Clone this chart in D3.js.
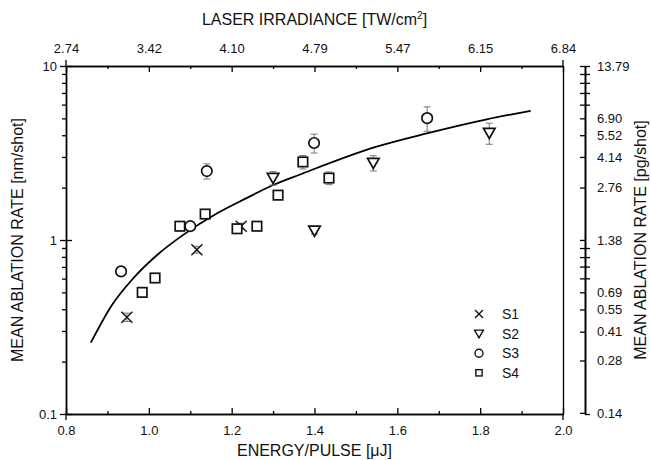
<!DOCTYPE html>
<html>
<head>
<meta charset="utf-8">
<script src="https://cdn.jsdelivr.net/npm/d3@7"></script>
<style>
  body { margin: 0; background: #fff; }
  svg { font-family: "Liberation Sans", Arial, sans-serif; }
  .axis path, .axis line { stroke: #000; stroke-width: 1.3; }
  .axis text { font-size: 13px; fill: #111; }
  .title { font-size: 16px; fill: #111; }
</style>
</head>
<body>
<div id="chart"></div>
<script>
//series S1..S4: energy [uJ], mean ablation rate [nm/shot], error bars
const s1Energy = [0.947, 1.116, 1.223];
const s1Rate   = [0.36, 0.88, 1.20];
const s1Err    = [0.02, 0.04, 0.05];

const s2Energy = [1.30, 1.40, 1.542, 1.822];
const s2Rate   = [2.27, 1.13, 2.77, 4.12];
const s2Err    = [0.20, 0.05, 0.28, 0.57];

const s3Energy = [0.933, 1.10, 1.14, 1.399, 1.672];
const s3Rate   = [0.66, 1.20, 2.49, 3.61, 5.02];
const s3Err    = [0.02, 0.03, 0.25, 0.45, 0.80];
const s3XErr   = [0, 0, 0, 0, 0.012];

const s4Energy = [0.984, 1.015, 1.075, 1.136, 1.213, 1.261, 1.312, 1.372, 1.435];
const s4Rate   = [0.50, 0.605, 1.20, 1.41, 1.16, 1.20, 1.81, 2.81, 2.27];
const s4Err    = [0.02, 0.03, 0.03, 0.05, 0.05, 0.03, 0.08, 0.25, 0.19];

//model curve
const fitEnergy = [0.860, 0.911, 0.963, 1.020, 1.083, 1.164, 1.236, 1.300, 1.365, 1.550, 1.671, 1.816, 1.922];
const fitRate   = [0.257, 0.423, 0.605, 0.82, 1.07, 1.42, 1.74, 2.07, 2.38, 3.44, 4.10, 4.94, 5.53];

//tick values and labels
const energyTicks = [0.8, 1.0, 1.2, 1.4, 1.6, 1.8, 2.0];
const energyMinor = [0.9, 1.1, 1.3, 1.5, 1.7, 1.9];
const irradianceLabels = ["2.74", "3.42", "4.10", "4.79", "5.47", "6.15", "6.84"];
const rateTicks = [0.1, 1, 10];
const rateMinor = [0.2, 0.3, 0.4, 0.5, 0.6, 0.7, 0.8, 0.9, 2, 3, 4, 5, 6, 7, 8, 9];
const massLabels = ["13.79", "6.90", "5.52", "4.14", "2.76", "1.38", "0.69", "0.55", "0.41", "0.28", "0.14"];
const massMinor = [12.41, 11.03, 9.65, 8.27, 1.24, 1.10, 0.97, 0.83];

const width = 651, height = 460;
const margin = { top: 66, right: 88, bottom: 46, left: 66 };
const x0 = margin.left, x1 = width - margin.right, y0 = margin.top, y1 = height - margin.bottom;

const svg = d3.select("#chart").append("svg")
    .attr("width", width)
    .attr("height", height);

const x = d3.scaleLinear().domain([0.8, 2.0]).range([x0, x1]);
const y = d3.scaleLog().domain([0.1, 10]).range([y1, y0]);
const yMass = d3.scaleLog().domain([0.1379, 13.79]).range([y1, y0]);

//bottom axis
svg.append("g").attr("class", "axis")
    .attr("transform", "translate(0," + y1 + ")")
    .call(d3.axisBottom(x).tickValues(energyTicks).tickFormat(d3.format(".1f"))
        .tickSizeInner(-6).tickSizeOuter(0).tickPadding(12));
svg.append("g").attr("class", "axis")
    .attr("transform", "translate(0," + y1 + ")")
    .call(d3.axisBottom(x).tickValues(energyMinor).tickSizeInner(-3).tickSizeOuter(0).tickFormat(""));

//top axis
svg.append("g").attr("class", "axis")
    .attr("transform", "translate(0," + y0 + ")")
    .call(d3.axisTop(x).tickValues(energyTicks).tickFormat((d, i) => irradianceLabels[i])
        .tickSizeInner(-6).tickSizeOuter(0).tickPadding(13));
svg.append("g").attr("class", "axis")
    .attr("transform", "translate(0," + y0 + ")")
    .call(d3.axisTop(x).tickValues(energyMinor).tickSizeInner(-3).tickSizeOuter(0).tickFormat(""));

//left axis, major ticks cross the frame
svg.append("g").attr("class", "axis")
    .attr("transform", "translate(" + x0 + ",0)")
    .call(d3.axisLeft(y).tickValues(rateTicks).tickFormat(d3.format("~g"))
        .tickSizeInner(6).tickSizeOuter(0).tickPadding(3));
svg.append("g").attr("class", "axis")
    .attr("transform", "translate(" + x0 + ",0)")
    .call(d3.axisRight(y).tickValues(rateTicks).tickSizeInner(6).tickSizeOuter(0).tickFormat(""));
svg.append("g").attr("class", "axis")
    .attr("transform", "translate(" + x0 + ",0)")
    .call(d3.axisLeft(y).tickValues(rateMinor).tickSizeInner(4).tickSizeOuter(0).tickFormat(""));

//right frame line
svg.append("g").attr("class", "axis")
    .attr("transform", "translate(" + x1 + ",0)")
    .call(d3.axisRight(y).tickValues([]).tickSizeOuter(0));

//frame corners stick out a little
svg.append("g").attr("class", "axis")
    .selectAll("line")
    .data([[x.domain()[0], y1, 6], [x.domain()[1], y1, 6], [x.domain()[0], y0, -6], [x.domain()[1], y0, -6]])
    .join("line")
    .attr("x1", d => x(d[0])).attr("x2", d => x(d[0]))
    .attr("y1", d => d[1]).attr("y2", d => d[1] + d[2]);

//separate mass axis on the right
const massX = x1 + 22;
svg.append("g").attr("class", "axis")
    .attr("transform", "translate(" + massX + ",0)")
    .call(d3.axisRight(yMass).tickValues(massLabels.map(Number)).tickFormat((d, i) => massLabels[i])
        .tickSizeInner(-5).tickSizeOuter(0).tickPadding(12));
svg.append("g").attr("class", "axis")
    .attr("transform", "translate(" + massX + ",0)")
    .call(d3.axisRight(yMass).tickValues(massMinor).tickSizeInner(5).tickSizeOuter(0).tickFormat(""));
svg.append("g").attr("class", "axis")
    .attr("transform", "translate(" + massX + ",0)")
    .call(d3.axisLeft(yMass).tickValues(massMinor).tickSizeInner(5).tickSizeOuter(0).tickFormat(""));
svg.append("g").attr("class", "axis")
    .attr("transform", "translate(" + massX + ",0)")
    .call(d3.axisRight(yMass).tickValues([13.79, 0.1379]).tickSizeInner(5).tickSizeOuter(0).tickFormat(""));

//titles
svg.append("text").attr("class", "title")
    .attr("x", (x0 + x1) / 2).attr("y", 25)
    .attr("text-anchor", "middle")
    .html('LASER IRRADIANCE [TW/cm<tspan dy="-6" font-size="10">2</tspan><tspan dy="6">]</tspan>');
svg.append("text").attr("class", "title")
    .attr("x", (x0 + x1) / 2).attr("y", 456)
    .attr("text-anchor", "middle")
    .text("ENERGY/PULSE [\u03bcJ]");
svg.append("text").attr("class", "title")
    .attr("transform", "translate(23," + (y0 + y1) / 2 + ") rotate(-90)")
    .attr("text-anchor", "middle")
    .text("MEAN ABLATION RATE [nm/shot]");
svg.append("text").attr("class", "title")
    .attr("transform", "translate(646," + (y0 + y1) / 2 + ") rotate(-90)")
    .attr("text-anchor", "middle")
    .text("MEAN ABLATION RATE [pg/shot]");

//model curve
const line = d3.line().x(d => x(d[0])).y(d => y(d[1])).curve(d3.curveMonotoneX);
svg.append("path")
    .datum(fitEnergy.map((e, i) => [e, fitRate[i]]))
    .attr("fill", "none")
    .attr("stroke", "#000")
    .attr("stroke-width", 1.8)
    .attr("d", line);

//marker shapes
function drawMarker(g, name, size) {
    if (name === "S2") {
        const h = size * 0.55;
        g.append("path").attr("d", "M" + (-h) + "," + (-h * 0.8) + "L" + h + "," + (-h * 0.8) + "L0," + (h * 0.95) + "Z");
    } else if (name === "S1") {
        const h = size * 0.5;
        g.append("path").attr("d", "M" + (-h) + "," + (-h) + "L" + h + "," + h + "M" + (-h) + "," + h + "L" + h + "," + (-h));
    } else if (name === "S3") {
        g.append("circle").attr("r", size * 0.5);
    } else {
        g.append("rect").attr("x", -size * 0.45).attr("y", -size * 0.45)
            .attr("width", size * 0.9).attr("height", size * 0.9);
    }
}

const series = [
    { name: "S1", energy: s1Energy, rate: s1Rate, err: s1Err, xerr: [] },
    { name: "S2", energy: s2Energy, rate: s2Rate, err: s2Err, xerr: [] },
    { name: "S3", energy: s3Energy, rate: s3Rate, err: s3Err, xerr: s3XErr },
    { name: "S4", energy: s4Energy, rate: s4Rate, err: s4Err, xerr: [] }
];

//error bars first, markers on top
const eb = svg.append("g").attr("stroke", "#777").attr("stroke-width", 1);
series.forEach(s => {
    s.energy.forEach((e, i) => {
        const cx = x(e), lo = y(s.rate[i] - s.err[i]), hi = y(s.rate[i] + s.err[i]);
        eb.append("line").attr("x1", cx).attr("x2", cx).attr("y1", lo).attr("y2", hi);
        eb.append("line").attr("x1", cx - 3.5).attr("x2", cx + 3.5).attr("y1", lo).attr("y2", lo);
        eb.append("line").attr("x1", cx - 3.5).attr("x2", cx + 3.5).attr("y1", hi).attr("y2", hi);
        if (s.xerr[i]) {
            const cy = y(s.rate[i]), l = x(e - s.xerr[i]), r = x(e + s.xerr[i]);
            eb.append("line").attr("x1", l).attr("x2", r).attr("y1", cy).attr("y2", cy);
            eb.append("line").attr("x1", l).attr("x2", l).attr("y1", cy - 3.5).attr("y2", cy + 3.5);
            eb.append("line").attr("x1", r).attr("x2", r).attr("y1", cy - 3.5).attr("y2", cy + 3.5);
        }
    });
});

series.forEach(s => {
    svg.append("g").selectAll("g")
        .data(s.energy.map((e, i) => [e, s.rate[i]]))
        .join("g")
        .attr("transform", d => "translate(" + x(d[0]) + "," + y(d[1]) + ")")
        .attr("fill", s.name === "S1" ? "none" : "#fff")
        .attr("stroke", "#111")
        .attr("stroke-width", s.name === "S1" ? 1.4 : 1.7)
        .each(function() { drawMarker(d3.select(this), s.name, s.name === "S1" ? 11 : 10.5); });
});

//legend
const legend = svg.append("g").attr("transform", "translate(479,314)");
series.forEach((s, i) => {
    const row = legend.append("g").attr("transform", "translate(0," + i * 19.6 + ")");
    const m = row.append("g").attr("fill", "none").attr("stroke", "#111").attr("stroke-width", 1.4);
    drawMarker(m, s.name, s.name === "S4" ? 7 : 8);
    row.append("text").attr("x", 23).attr("y", 5).attr("font-size", 14).attr("fill", "#111").text(s.name);
});
</script>
</body>
</html>
